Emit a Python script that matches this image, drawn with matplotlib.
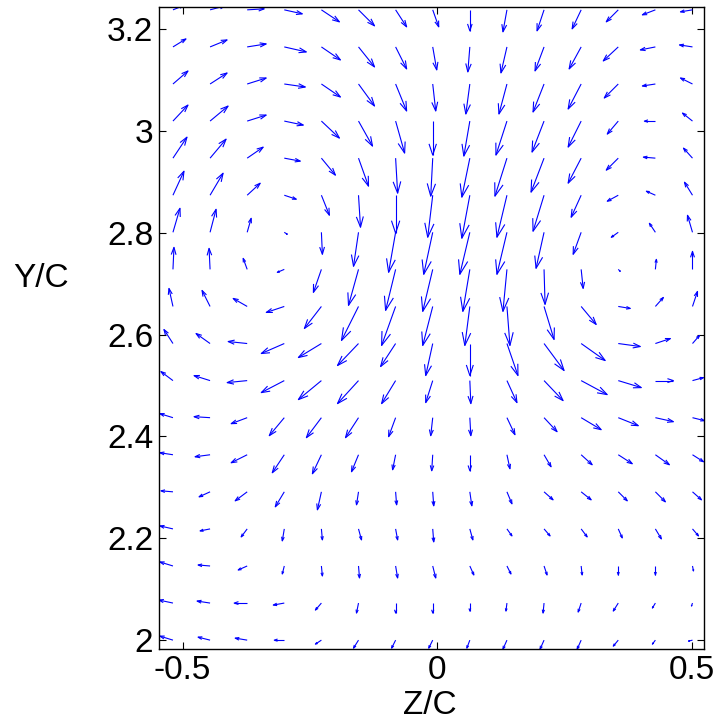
import numpy as np
import matplotlib
matplotlib.use("Agg")
import matplotlib.pyplot as plt
from matplotlib.collections import LineCollection

plt.rcParams['font.family'] = ['Liberation Sans', 'DejaVu Sans']

# Grid of measurement points (Z/C columns, Y/C rows from top to bottom)
z_grid = np.linspace(-0.519, 0.501, 15)
y_grid = np.linspace(3.238, 2.0, 18)

# Velocity components (arbitrary units, +V is up)
# each row: one Y/C level (top to bottom); each entry: one Z/C column
U = [
    [10, 15, 17, 18, 18, 16, 11, 6, 0, -4, -7, -9, -12, -13, -12],
    [13, 17, 19, 22, 19, 16, 11, 4, -2, -6, -9, -12, -15, -15, -13],
    [15, 17, 19, 21, 19, 16, 11, 3, -4, -8, -11, -13, -14, -13, -12],
    [15, 18, 19, 19, 18, 14, 9, 0, -6, -11, -12, -13, -11, -11, -10],
    [14, 16, 16, 16, 14, 10, 2, -2, -8, -12, -13, -13, -12, -12, -9],
    [11, 13, 13, 12, 8, 2, 0, -5, -8, -10, -11, -10, -11, -9, -8],
    [7, 6, 4, 3, 1, -5, -7, -9, -10, -10, -8, -8, -7, -6, -5],
    [1, -1, -4, -7, -8, -10, -10, -10, -7, -4, 1, 2, 2, 1, 0],
    [-4, -8, -14, -18, -17, -17, -14, -10, -5, 3, 10, 15, 12, 8, 5],
    [-9, -14, -19, -23, -23, -21, -15, -7, 0, 11, 20, 24, 22, 15, 7],
    [-12, -16, -20, -23, -23, -21, -14, -7, 1, 10, 19, 26, 23, 18, 11],
    [-13, -16, -16, -15, -15, -13, -7, -2, 1, 8, 13, 20, 20, 18, 12],
    [-13, -15, -16, -12, -9, -7, -3, -1, 0, 3, 7, 11, 14, 14, 11],
    [-12, -11, -12, -9, -4, -2, 1, 1, 2, 5, 9, 10, 9, 10, 9],
    [-13, -10, -6, -2, 1, 3, 2, 1, 3, 5, 6, 6, 4, 6, 6],
    [-13, -12, -9, -2, 1, 1, 2, 3, 4, 4, 3, 1, 0, 0, 1],
    [-14, -13, -13, -11, -6, -2, 0, 0, 0, -1, -1, -3, -5, -3, -1],
    [-13, -12, -12, -10, -6, -5, -4, -4, -3, -4, -4, -4, -5, -3, -4],
]
V = [
    [4, 4, 1, -4, -12, -16, -17, -17, -21, -22, -21, -19, -12, -5, -2],
    [8, 7, 3, -5, -13, -20, -22, -23, -25, -26, -24, -22, -14, -3, 2],
    [13, 11, 6, -3, -13, -22, -27, -27, -30, -30, -28, -25, -14, -2, 6],
    [16, 15, 6, -4, -17, -25, -32, -34, -35, -34, -31, -26, -13, 0, 8],
    [21, 19, 11, -3, -17, -28, -35, -38, -39, -38, -34, -25, -12, 1, 10],
    [24, 22, 12, -4, -20, -32, -38, -42, -43, -42, -36, -22, -6, 4, 13],
    [24, 23, 14, -2, -22, -34, -40, -42, -42, -42, -36, -22, -5, 9, 17],
    [22, 21, 11, -3, -23, -36, -41, -42, -42, -42, -35, -19, -2, 10, 18],
    [18, 16, 8, -6, -22, -34, -39, -39, -39, -39, -33, -18, -2, 9, 15],
    [14, 10, 2, -10, -14, -22, -23, -32, -32, -32, -27, -17, -3, 5, 8],
    [9, 5, -2, -12, -19, -23, -23, -22, -23, -22, -20, -14, -7, 0, 3],
    [4, 1, -6, -18, -20, -20, -19, -18, -18, -17, -14, -12, -8, -4, -3],
    [2, -2, -8, -18, -19, -17, -15, -16, -16, -14, -12, -10, -9, -10, -7],
    [1, -5, -9, -15, -18, -13, -13, -14, -14, -12, -8, -8, -9, -10, -8],
    [3, -2, -8, -12, -11, -11, -11, -13, -11, -7, -7, -8, -9, -10, -7],
    [4, 1, -4, -8, -10, -12, -12, -12, -9, -8, -9, -9, -9, -9, -5],
    [3, 2, 0, -2, -7, -10, -10, -10, -8, -8, -10, -9, -8, -5, -3],
    [4, 3, 2, 0, -4, -8, -8, -8, -8, -9, -9, -9, -6, -4, -1],
]

x_ticks = [-0.5, 0, 0.5]
y_ticks = [2, 2.2, 2.4, 2.6, 2.8, 3.0, 3.2]
x_ticklabels = ['-0.5', '0', '0.5']
y_ticklabels = ['2', '2.2', '2.4', '2.6', '2.8', '3', '3.2']

fig = plt.figure(figsize=(7.2, 7.21), dpi=100)
ax = fig.add_axes([158.7 / 720, 1 - 649.3 / 721, (704 - 158.7) / 720, (649.3 - 7.3) / 721])

scale = 1.0 / 509.0  # arrow length per velocity unit (data units)
Zg, Yg = np.meshgrid(z_grid, y_grid)
u = np.array(U, dtype=float) * scale
v = np.array(V, dtype=float) * scale
x0 = Zg.ravel(); y0 = Yg.ravel(); uu = u.ravel(); vv = v.ravel()
x1 = x0 + uu; y1 = y0 + vv
alpha, beta = 0.33, 0.33
hx1 = x1 - alpha * (uu + beta * vv); hy1 = y1 - alpha * (vv - beta * uu)
hx2 = x1 - alpha * (uu - beta * vv); hy2 = y1 - alpha * (vv + beta * uu)
segs = []
for k in range(len(x0)):
    segs.append([(x0[k], y0[k]), (x1[k], y1[k])])
    segs.append([(hx1[k], hy1[k]), (x1[k], y1[k]), (hx2[k], hy2[k])])
lc = LineCollection(segs, colors='#0000ff', linewidths=0.8)
ax.add_collection(lc)

ax.set_xlim(-0.547, 0.5236)
ax.set_ylim(1.982, 3.243)
ax.set_xticks(x_ticks)
ax.set_xticklabels(x_ticklabels)
ax.set_yticks(y_ticks)
ax.set_yticklabels(y_ticklabels)
ax.tick_params(direction='in', length=5, width=0.8, labelsize=24, pad=4,
               top=True, right=True, colors='black')
for s in ax.spines.values():
    s.set_linewidth(1.0)

fig.text(40.8 / 720, 1 - 286.7 / 721, 'Y/C', fontsize=24, ha='center', va='baseline')
fig.text(430 / 720, 1 - 714.5 / 721, 'Z/C', fontsize=24, ha='center', va='baseline')

fig.savefig('out.png', dpi=100)
